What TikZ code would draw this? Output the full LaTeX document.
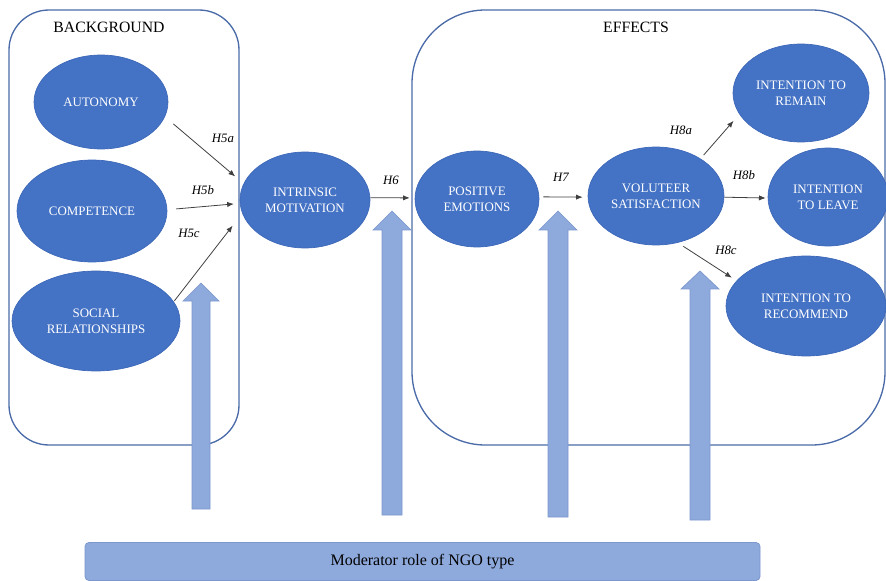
\documentclass[tikz,border=0pt]{standalone}
\usepackage{fontspec}
\setmainfont{Liberation Serif}
\usetikzlibrary{arrows.meta,shapes.geometric}
\definecolor{ellblue}{HTML}{4472C4}
\definecolor{ellrim}{HTML}{3C67B8}
\definecolor{lightblue}{HTML}{8EA9DB}
\definecolor{lightrim}{HTML}{7B97CD}
\definecolor{boxline}{HTML}{4A6BA8}
\definecolor{arrowgray}{HTML}{404040}
\begin{document}
\begin{tikzpicture}[x=0.75pt,y=-0.75pt,
  ell/.style={ellipse, fill=ellblue, draw=ellrim, line width=0.5pt, text=white,
    inner sep=0pt, align=center, font=\fontsize{9.7}{12}\selectfont},
  conn/.style={draw=arrowgray, line width=0.6pt, -{Latex[length=5pt,width=4pt]}},
  hlab/.style={font=\fontsize{9.6}{11}\selectfont\itshape},
  grouptitle/.style={font=\fontsize{11.8}{14}\selectfont},
  groupframe/.style={draw=boxline, line width=1pt},
  blockarrow/.style={fill=lightblue, draw=lightrim, line width=0.5pt},
  modbox/.style={fill=lightblue, draw=lightrim, line width=0.6pt, rounded corners=3pt,
    minimum width=506.25pt, minimum height=28.5pt, font=\fontsize{12}{14}\selectfont}
]
\useasboundingbox (0,0) rectangle (886,581);

% group frames
\draw[groupframe, rounded corners=30] (9,10) rectangle (239,445);
\draw[groupframe, rounded corners=55] (412,10) rectangle (885,445);
\node[grouptitle] (bgtitle) at (109,27) {BACKGROUND};
\node[grouptitle] (eftitle) at (636,27) {EFFECTS};

% block arrows (moderation)
\draw[blockarrow] (192,509) -- (192,301) -- (183,301) -- (201,283) -- (219,301) -- (210,301) -- (210,509) -- cycle;
\draw[blockarrow] (382,515) -- (382,230) -- (373,230) -- (392,211) -- (411,230) -- (402,230) -- (402,515) -- cycle;
\draw[blockarrow] (548,517) -- (548,230) -- (539,230) -- (558,211) -- (577,230) -- (568,230) -- (568,517) -- cycle;
\draw[blockarrow] (690,520) -- (690,289) -- (681,289) -- (700,271) -- (719,289) -- (710,289) -- (710,520) -- cycle;

% moderator
\node[modbox] (mod) at (422.5,561.5) {Moderator role of NGO type};

% ellipses
\node[ell, minimum width=100.5pt, minimum height=70.5pt] (aut) at (101,102) {AUTONOMY};
\node[ell, minimum width=112.5pt, minimum height=76.5pt] (comp) at (92,211) {COMPETENCE};
\node[ell, minimum width=126pt, minimum height=75pt] (soc) at (96,321) {SOCIAL\\RELATIONSHIPS};
\node[ell, minimum width=97.5pt, minimum height=72pt] (im) at (305,200) {INTRINSIC\\MOTIVATION};
\node[ell, minimum width=93pt, minimum height=72pt] (pe) at (477,199) {POSITIVE\\EMOTIONS};
\node[ell, minimum width=102pt, minimum height=73.5pt] (vs) at (656,196) {VOLUTEER\\SATISFACTION};
\node[ell, minimum width=102pt, minimum height=73.5pt] (ir) at (801,93) {INTENTION TO\\REMAIN};
\node[ell, minimum width=90pt, minimum height=73.5pt] (il) at (828,197) {INTENTION\\TO LEAVE};
\node[ell, minimum width=120pt, minimum height=75pt] (irec) at (806,306) {INTENTION TO\\RECOMMEND};

% connectors
\draw[conn, shorten <=8.25pt, shorten >=8.25pt] (aut.-13.2) -- (im.165.7);
\draw[conn, shorten <=6.75pt, shorten >=4.5pt] (comp.1.8) -- (im.183.2);
\draw[conn, shorten <=0.75pt, shorten >=11.7pt] (soc.14.4) -- (im.192.5);
\draw[conn, shorten >=3.75pt] (im.2) -- (pe.179);
\draw[conn, shorten <=3pt, shorten >=3.75pt] (pe.2) -- (vs.181);
\draw[conn, shorten <=3.5pt, shorten >=6.6pt] (vs.40.6) -- (ir.199.4);
\draw[conn, shorten >=1.5pt] (vs.-1.7) -- (il.181);
\draw[conn, shorten <=4.9pt, shorten >=4.2pt] (vs.-65) -- (irec.160.2);

% hypothesis labels
\node[hlab] (h5a) at (223,138) {H5a};
\node[hlab] (h5b) at (203,190) {H5b};
\node[hlab] (h5c) at (189,233) {H5c};
\node[hlab] (h6) at (391,180) {H6};
\node[hlab] (h7) at (561,177) {H7};
\node[hlab] (h8a) at (681,130) {H8a};
\node[hlab] (h8b) at (744,175) {H8b};
\node[hlab] (h8c) at (726,250) {H8c};
\end{tikzpicture}
\end{document}
